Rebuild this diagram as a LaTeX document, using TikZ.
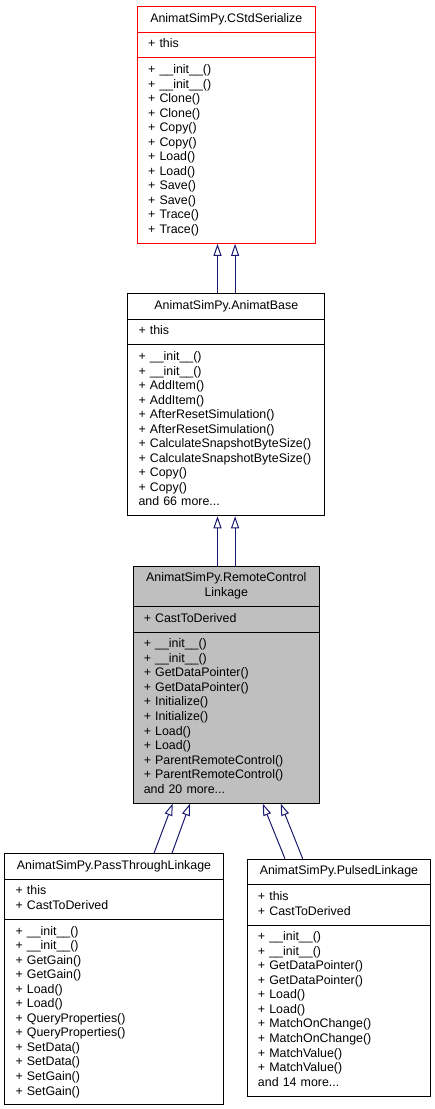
\documentclass[tikz,border=0pt]{standalone}
\usepackage{fontspec}
\setmainfont{Liberation Sans}
\usepackage{tikz}
\usetikzlibrary{shapes.multipart, arrows.meta, positioning}
\usepackage{xcolor}
\definecolor{edgeblue}{RGB}{25,25,112}
\definecolor{focusgray}{RGB}{191,191,191}
\hyphenpenalty=10000
% centred line inside a left aligned node part
\newcommand{\ctr}[1]{\hskip 0pt plus 1filll\relax #1\hskip 0pt plus 1filll\null}

\tikzset{
  umlclass/.style={rectangle split, rectangle split parts=3, draw,
    line width=0.75pt, align=left, inner xsep=8pt, inner ysep=3.8pt,
    font=\fontsize{9.3}{10.9}\selectfont},
  inherit/.style={edgeblue, line width=0.75pt,
    -{Triangle[open, length=9pt, width=6pt]}}
}

\begin{document}
\begin{tikzpicture}[x=0.75pt, y=0.75pt]
    \useasboundingbox (0,0) rectangle (435,-1109);

    % base class on top
    \node[umlclass, draw=red, text width=117.2pt, anchor=north] (serialize) at (226.3,-6)
      {\strut\ctr{AnimatSimPy.CStdSerialize}\strut
       \nodepart{two}\strut + this\strut
       \nodepart{three}\strut + \_\_init\_\_()\\ + \_\_init\_\_()\\ + Clone()\\ + Clone()\\
       + Copy()\\ + Copy()\\ + Load()\\ + Load()\\ + Save()\\ + Save()\\
       + Trace()\\ + Trace()\strut};

    \node[umlclass, text width=131.7pt, below=36.8pt of serialize] (base)
      {\strut\ctr{AnimatSimPy.AnimatBase}\strut
       \nodepart{two}\strut + this\strut
       \nodepart{three}\strut + \_\_init\_\_()\\ + \_\_init\_\_()\\ + AddItem()\\ + AddItem()\\
       + AfterResetSimulation()\\ + AfterResetSimulation()\\
       + CalculateSnapshotByteSize()\\ + CalculateSnapshotByteSize()\\
       + Copy()\\ + Copy()\\ and 66 more...\strut};

    % the class this graph is about (grey)
    \node[umlclass, fill=focusgray, text width=123.8pt, below=37.1pt of base] (remote)
      {\strut\ctr{AnimatSimPy.RemoteControl}\\\ctr{Linkage}\strut
       \nodepart{two}\strut + CastToDerived\strut
       \nodepart{three}\strut + \_\_init\_\_()\\ + \_\_init\_\_()\\ + GetDataPointer()\\
       + GetDataPointer()\\ + Initialize()\\ + Initialize()\\ + Load()\\ + Load()\\
       + ParentRemoteControl()\\ + ParentRemoteControl()\\ and 20 more...\strut};

    % derived classes
    \node[umlclass, text width=147.7pt, below=37.1pt of remote, xshift=-84.2pt] (passthrough)
      {\strut\ctr{AnimatSimPy.PassThroughLinkage}\strut
       \nodepart{two}\strut + this\\ + CastToDerived\strut
       \nodepart{three}\strut + \_\_init\_\_()\\ + \_\_init\_\_()\\ + GetGain()\\ + GetGain()\\
       + Load()\\ + Load()\\ + QueryProperties()\\ + QueryProperties()\\
       + SetData()\\ + SetData()\\ + SetGain()\\ + SetGain()\strut};

    \node[umlclass, text width=121.5pt, below=41.3pt of remote, xshift=84.5pt] (pulsed)
      {\strut\ctr{AnimatSimPy.PulsedLinkage}\strut
       \nodepart{two}\strut + this\\ + CastToDerived\strut
       \nodepart{three}\strut + \_\_init\_\_()\\ + \_\_init\_\_()\\ + GetDataPointer()\\
       + GetDataPointer()\\ + Load()\\ + Load()\\ + MatchOnChange()\\ + MatchOnChange()\\
       + MatchValue()\\ + MatchValue()\\ and 14 more...\strut};

    % inheritance edges, two of each
    \draw[inherit] ([xshift=-6.6pt]base.north) -- ([xshift=-6.6pt]serialize.south);
    \draw[inherit] ([xshift=6.6pt]base.north) -- ([xshift=6.6pt]serialize.south);
    \draw[inherit] ([xshift=-6.6pt]remote.north) -- ([xshift=-6.6pt]base.south);
    \draw[inherit] ([xshift=6.6pt]remote.north) -- ([xshift=6.6pt]base.south);
    \draw[inherit] ([xshift=30pt]passthrough.north) -- ([xshift=-40.2pt]remote.south);
    \draw[inherit] ([xshift=43.5pt]passthrough.north) -- ([xshift=-27.2pt]remote.south);
    \draw[inherit] ([xshift=-40.5pt]pulsed.north) -- ([xshift=27.3pt]remote.south);
    \draw[inherit] ([xshift=-27.2pt]pulsed.north) -- ([xshift=40.8pt]remote.south);
  \end{tikzpicture}
\end{document}
